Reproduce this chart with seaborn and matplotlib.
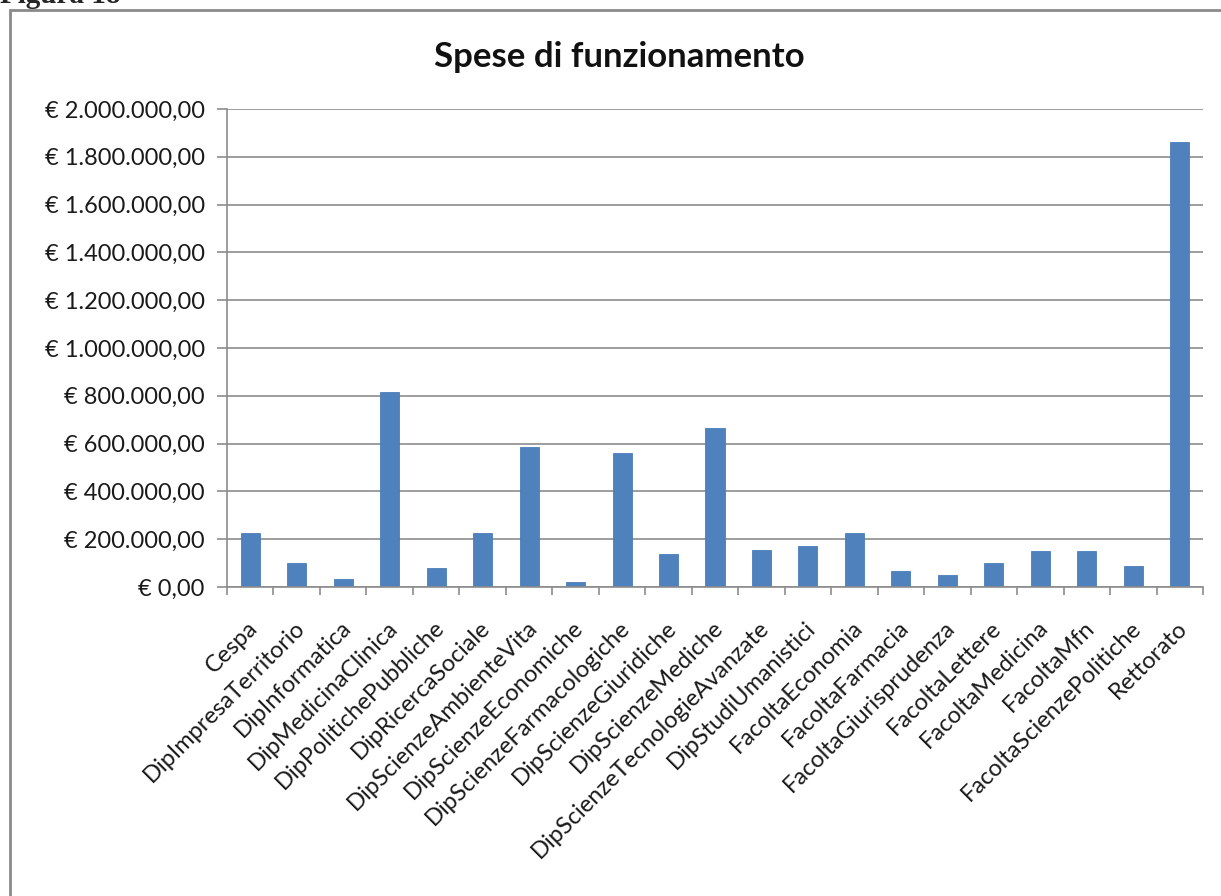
import matplotlib
matplotlib.use("Agg")
import matplotlib.pyplot as plt
import matplotlib.transforms as mtransforms
import seaborn as sns
import pandas as pd
from matplotlib.patches import Rectangle
from matplotlib.ticker import FuncFormatter, MultipleLocator

categories = ["Cespa", "DipImpresaTerritorio", "DipInformatica", "DipMedicinaClinica",
              "DipPolitichePubbliche", "DipRicercaSociale", "DipScienzeAmbienteVita",
              "DipScienzeEconomiche", "DipScienzeFarmacologiche", "DipScienzeGiuridiche",
              "DipScienzeMediche", "DipScienzeTecnologieAvanzate", "DipStudiUmanistici",
              "FacoltaEconomia", "FacoltaFarmacia", "FacoltaGiurisprudenza", "FacoltaLettere",
              "FacoltaMedicina", "FacoltaMfn", "FacoltaScienzePolitiche", "Rettorato"]
values = [227000, 101000, 34000, 815000, 80000, 227000, 587000, 19000, 560000, 136000,
          665000, 155000, 172000, 227000, 69000, 52000, 101000, 150000, 150000, 86000,
          1864000]
title = "Spese di funzionamento"
fig_label = "Figura 18"

df = pd.DataFrame({"cat": categories, "val": values})

sns.set_theme(style="white")
plt.rcParams["font.family"] = ["Lato", "DejaVu Sans"]

W, H = 1221, 896
fig = plt.figure(figsize=(W / 100, H / 100), dpi=100)
ax = fig.add_axes([227 / W, 1 - 587 / H, (1203 - 227) / W, (587 - 109) / H])

sns.barplot(data=df, x="cat", y="val", color="#4F81BD", width=0.41, ax=ax,
            saturation=1, edgecolor="#4A7EBB", linewidth=0.6)

ax.set_ylim(0, 2000000)
ax.set_xlim(-0.5, len(categories) - 0.5)
ax.yaxis.set_major_locator(MultipleLocator(200000))


def euro(v, pos):
    s = f"{v:,.2f}"
    s = s.replace(",", "X").replace(".", ",").replace("X", ".")
    return "€ " + s


ax.yaxis.set_major_formatter(FuncFormatter(euro))
ax.grid(axis="y", color="#8C8C8C", linewidth=1.2)
ax.set_axisbelow(True)
for side in ["top", "right"]:
    ax.spines[side].set_visible(False)
for side in ["left", "bottom"]:
    ax.spines[side].set_color("#8C8C8C")
    ax.spines[side].set_linewidth(1.2)

ax.set_xlabel("")
ax.set_ylabel("")
ax.set_xticks(range(len(categories)))
ax.set_xticklabels(categories, rotation=45, ha="right", rotation_mode="anchor",
                   fontsize=17, color="#1a1a1a")
ax.set_xticks([i - 0.5 for i in range(len(categories) + 1)], minor=True)
ax.tick_params(axis="x", which="major", length=0, pad=0)
ax.tick_params(axis="x", which="minor", length=6, width=1.2, color="#8C8C8C", bottom=True)
ax.tick_params(axis="y", length=7, width=1.2, color="#8C8C8C", left=True,
               labelsize=17, labelcolor="#1a1a1a", pad=9)

offset = mtransforms.ScaledTranslation(-3 / 100, -30 / 100, fig.dpi_scale_trans)
for lab in ax.get_xticklabels():
    lab.set_transform(lab.get_transform() + offset)

fig.text(619 / W, 1 - 57 / H, title, ha="center", va="center",
         fontsize=25, fontweight="bold", color="#111111")

fig.patches.append(Rectangle((10 / W, -0.1), 1.2, (H - 10) / H + 0.1,
                             transform=fig.transFigure, fill=False,
                             edgecolor="#8A8A8A", linewidth=2))
fig.text(0 / W, 1 - 3 / H, fig_label, ha="left", va="baseline",
         fontsize=21, fontweight="bold", family=["Liberation Serif", "DejaVu Serif"])

fig.savefig("out.png", dpi=100)
